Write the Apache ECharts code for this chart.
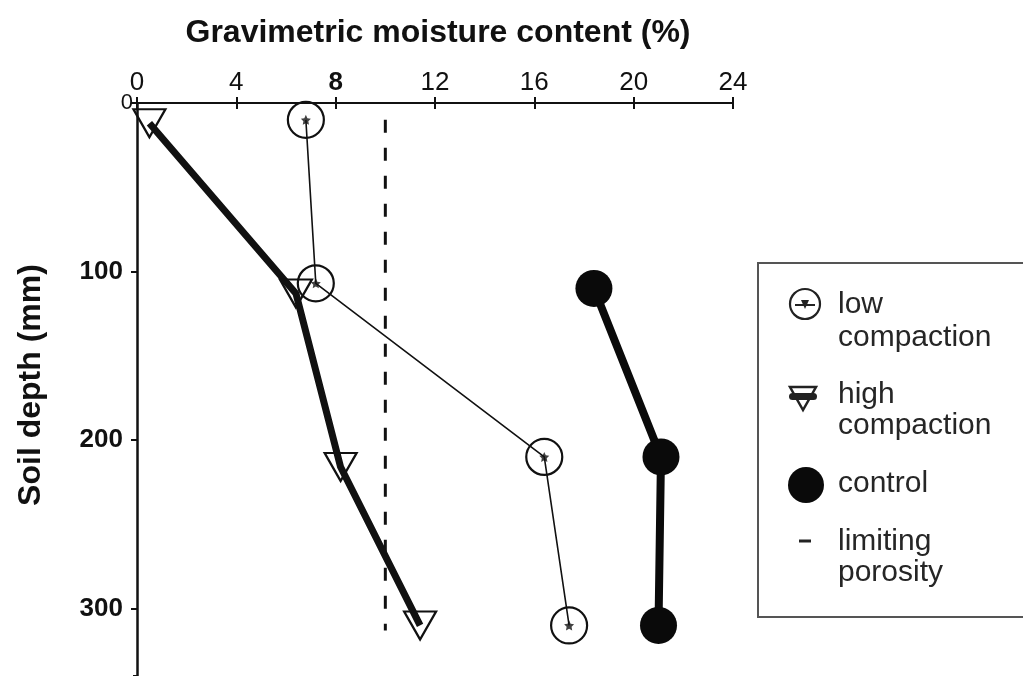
<!DOCTYPE html>
<html>
<head>
<meta charset="utf-8">
<script src="https://cdn.jsdelivr.net/npm/echarts@6/dist/echarts.min.js"></script>
<style>
  html, body { margin: 0; padding: 0; background: #fff; }
  #chart { width: 1023px; height: 676px; }
</style>
</head>
<body>
<div id="chart"></div>
<script>
// Soil moisture profiles: [moisture %, depth mm]
const lowCompaction  = [[6.8, 10], [7.2, 107], [16.4, 210], [17.4, 310]];
const highCompaction = [[0.5, 12], [6.4, 113], [8.2, 216], [11.4, 310]];
const control        = [[18.4, 110], [21.1, 210], [21.0, 310]];
const limitingPorosity = [[10, 10], [10, 313]];

const xTicks = [0, 4, 8, 12, 16, 20, 24];
const yTicks = [0, 100, 200, 300];

const FONT = 'Liberation Sans, Arial, Helvetica, sans-serif';
const INK = '#111';
const LEGEND_INK = '#262626';

const chart = echarts.init(document.getElementById('chart'), null, { renderer: 'canvas' });

const starPath = 'path://M0,-10 L2.9,-4 9.5,-3.1 4.7,1.5 5.9,8.1 0,5 -5.9,8.1 -4.7,1.5 -9.5,-3.1 -2.9,-4 Z';

function xAxisBase(extra) {
  return Object.assign({
    type: 'value', position: 'top', min: xTicks[0], max: xTicks[xTicks.length - 1],
    interval: xTicks[1] - xTicks[0],
    splitLine: { show: false }
  }, extra);
}
function yAxisBase(extra) {
  return Object.assign({
    type: 'value', inverse: true, min: 0, max: 340, interval: yTicks[1] - yTicks[0],
    splitLine: { show: false }
  }, extra);
}

function legendText(text, y) {
  return { type: 'text', x: 838, y: y,
    style: { text: text, font: '30px ' + FONT, fill: LEGEND_INK, textVerticalAlign: 'middle' } };
}

chart.setOption({
  animation: false,
  backgroundColor: '#fff',
  grid: { left: 137, top: 103, width: 596, height: 573 },
  xAxis: [
    xAxisBase({
      axisLine: { lineStyle: { color: INK, width: 2 } },
      axisTick: { length: 6, lineStyle: { color: INK, width: 2 } },
      axisLabel: {
        margin: 7, fontFamily: FONT, fontSize: 26, color: INK,
        formatter: v => xTicks.indexOf(v) >= 0 ? (v === 8 ? '{b|8}' : String(v)) : '',
        rich: { b: { fontFamily: FONT, fontSize: 26, fontWeight: 'bold', color: INK } }
      }
    }),
    xAxisBase({
      axisLine: { show: false },
      axisTick: { inside: true, length: 6, lineStyle: { color: INK, width: 2 } },
      axisLabel: { show: false }
    })
  ],
  yAxis: [
    yAxisBase({
      axisLine: { lineStyle: { color: INK, width: 2.5 } },
      axisTick: { length: 6, lineStyle: { color: INK, width: 2 } },
      axisLabel: {
        margin: 4, showMaxLabel: false,
        formatter: v => v === 0 ? '{z|0}' : (yTicks.indexOf(v) >= 0 ? '{b|' + v + '}' : ''),
        rich: {
          z: { fontFamily: FONT, fontSize: 22, color: INK },
          b: { fontFamily: FONT, fontSize: 26, fontWeight: 'bold', color: INK, padding: [0, 10, 0, 0] }
        }
      }
    }),
    yAxisBase({
      axisLine: { show: false },
      axisTick: { inside: true, length: 4, lineStyle: { color: INK, width: 2 } },
      axisLabel: { show: false }
    })
  ],
  series: [
    {
      name: 'limiting porosity', type: 'line', data: limitingPorosity, symbol: 'none',
      lineStyle: { color: INK, width: 3, type: [13, 15] }, z: 1
    },
    {
      name: 'high compaction', type: 'line', data: highCompaction,
      symbol: 'triangle', symbolRotate: 180, symbolSize: [32, 28],
      itemStyle: { color: 'rgba(0,0,0,0)', borderColor: INK, borderWidth: 2.2 },
      lineStyle: { color: INK, width: 7 }, z: 3
    },
    {
      name: 'low compaction', type: 'line', data: lowCompaction,
      symbol: 'circle', symbolSize: 36,
      itemStyle: { color: 'rgba(0,0,0,0)', borderColor: INK, borderWidth: 2.2 },
      lineStyle: { color: INK, width: 1.6 }, z: 4
    },
    {
      name: 'low compaction centre', type: 'scatter', data: lowCompaction,
      symbol: starPath, symbolSize: 10, itemStyle: { color: INK }, z: 5
    },
    {
      name: 'control', type: 'line', data: control,
      symbol: 'circle', symbolSize: 37,
      itemStyle: { color: '#0a0a0a' },
      lineStyle: { color: '#0a0a0a', width: 8 }, z: 3
    }
  ],
  graphic: [
    {
      type: 'text', x: 438, y: 33,
      style: { text: 'Gravimetric moisture content (%)', font: 'bold 32px ' + FONT, fill: INK,
               textAlign: 'center', textVerticalAlign: 'middle' }
    },
    {
      type: 'text', x: 31, y: 385, rotation: Math.PI / 2,
      style: { text: 'Soil depth (mm)', font: 'bold 32px ' + FONT, fill: INK, textAlign: 'center', textVerticalAlign: 'middle' }
    },
    // legend panel
    {
      type: 'group',
      children: [
        { type: 'rect', shape: { x: 758, y: 263, width: 300, height: 354 },
          style: { fill: '#fff', stroke: '#555', lineWidth: 2 } },
        { type: 'circle', shape: { cx: 805, cy: 304, r: 15 }, style: { fill: 'none', stroke: '#222', lineWidth: 2.2 } },
        { type: 'line', shape: { x1: 795, y1: 305, x2: 815, y2: 305 }, style: { stroke: '#222', lineWidth: 2 } },
        { type: 'polygon', shape: { points: [[801, 300], [809, 300], [805, 309]] }, style: { fill: '#222' } },
        { type: 'polygon', shape: { points: [[790, 387], [816, 387], [803, 410]] }, style: { fill: 'none', stroke: '#222', lineWidth: 2.5 } },
        { type: 'rect', shape: { x: 789, y: 393, width: 28, height: 7, r: 3.5 }, style: { fill: '#222' } },
        { type: 'circle', shape: { cx: 806, cy: 485, r: 18 }, style: { fill: '#0a0a0a' } },
        { type: 'line', shape: { x1: 799, y1: 541, x2: 811, y2: 541 }, style: { stroke: '#222', lineWidth: 3 } },
        legendText('low', 305),
        legendText('compaction', 338),
        legendText('high', 395),
        legendText('compaction', 426),
        legendText('control', 484),
        legendText('limiting', 542),
        legendText('porosity', 573)
      ]
    }
  ]
});
</script>
</body>
</html>
